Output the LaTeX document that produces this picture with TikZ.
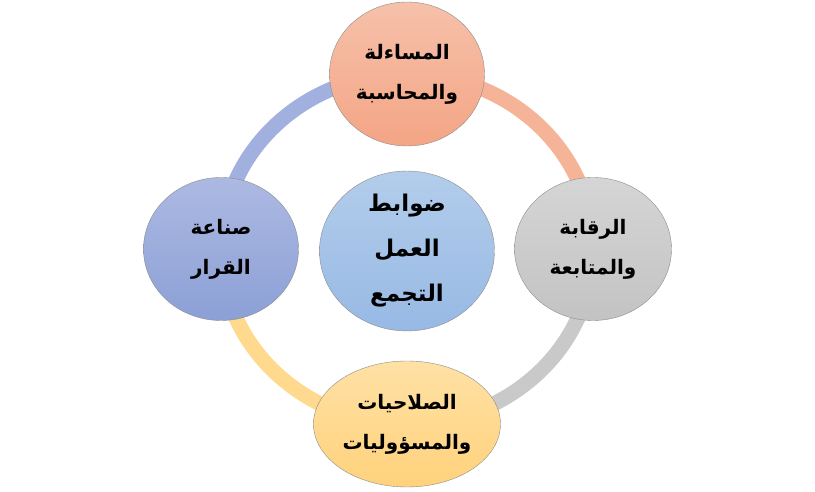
\documentclass[tikz,border=0pt]{standalone}
\usepackage{fontspec}
\newfontfamily\arabicfont[Script=Arabic]{DejaVu Sans}
\TeXXeTstate=1
\usepackage{xcolor}
\usetikzlibrary{calc}
\usetikzlibrary{shapes.geometric, positioning, backgrounds}
\definecolor{salmonTop}{HTML}{F6C1AA}
\definecolor{salmonBot}{HTML}{F4A585}
\definecolor{salmonRing}{HTML}{F5B497}
\definecolor{greyTop}{HTML}{D5D5D5}
\definecolor{greyBot}{HTML}{C3C3C3}
\definecolor{greyRing}{HTML}{C9C9C9}
\definecolor{sandTop}{HTML}{FFE1A5}
\definecolor{sandBot}{HTML}{FFD27C}
\definecolor{sandRing}{HTML}{FED98E}
\definecolor{slateTop}{HTML}{ACB9E2}
\definecolor{slateBot}{HTML}{8CA0D6}
\definecolor{slateRing}{HTML}{A1B0DE}
\definecolor{skyTop}{HTML}{B3CDEB}
\definecolor{skyBot}{HTML}{97B9E4}

\begin{document}
\begin{tikzpicture}[x=1pt, y=1pt,
			blobStyle/.style={draw=black!45, thin, ellipse, align=center, inner sep=0pt,
				font=\arabicfont\bfseries\fontsize{20}{40}\selectfont},
			accBlob/.style={blobStyle, top color=salmonTop, bottom color=salmonBot, minimum width=155, minimum height=144},
			ctrlBlob/.style={blobStyle, top color=greyTop, bottom color=greyBot, minimum width=157, minimum height=143},
			dutyBlob/.style={blobStyle, top color=sandTop, bottom color=sandBot, minimum width=187, minimum height=126},
			choiceBlob/.style={blobStyle, top color=slateTop, bottom color=slateBot, minimum width=155, minimum height=143},
			hubBlob/.style={blobStyle, top color=skyTop, bottom color=skyBot, minimum width=175, minimum height=152,
				font=\arabicfont\bfseries\fontsize{23}{45}\selectfont},
			ringStyle/.style={line width=15pt}]
			
			\useasboundingbox (0,0) rectangle (815,492);
			\coordinate (ring) at (407,243);
			
			\node[hubBlob] (hub) at (407,241) {\beginR ضوابط\endR\\\beginR العمل\endR\\\beginR التجمع\endR};
			
			\node[accBlob] (acc) at ($(ring)+(90:186 and 175)$) {\beginR المساءلة\endR\\\beginR والمحاسبة\endR};
			\node[ctrlBlob] (ctrl) at ($(ring)+(0:186 and 175)$) {\beginR الرقابة\endR\\\beginR والمتابعة\endR};
			\node[dutyBlob] (duty) at ($(ring)+(270:186 and 175)$) {\beginR الصلاحيات\endR\\\beginR والمسؤوليات\endR};
			\node[choiceBlob] (choice) at ($(ring)+(180:186 and 175)$) {\beginR صناعة\endR\\\beginR القرار\endR};
			
			\begin{pgfonlayer}{background}
				\foreach \from/\start/\col in {acc/90/salmonRing, ctrl/0/greyRing, duty/-90/sandRing, choice/180/slateRing}
				\draw[ringStyle, \col] (\from.center) arc[start angle=\start, delta angle=-90, x radius=186pt, y radius=175pt];
			\end{pgfonlayer}
		\end{tikzpicture}
\end{document}
